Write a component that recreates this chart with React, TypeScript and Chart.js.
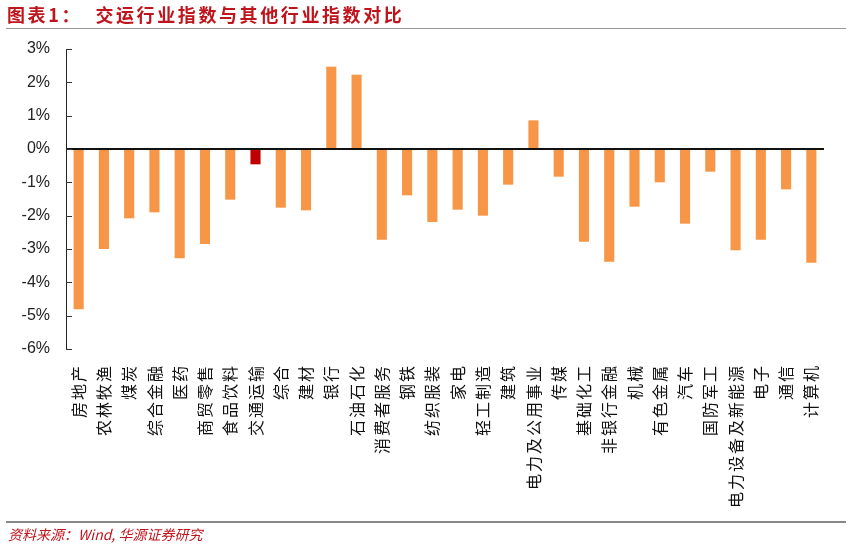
import React, { useEffect, useRef } from "react";
import { Chart, registerables } from "chart.js";

Chart.register(...registerables);

const categories: string[] = [
  "房地产", "农林牧渔", "煤炭", "综合金融", "医药", "商贸零售", "食品饮料", "交通运输",
  "综合", "建材", "银行", "石油石化", "消费者服务", "钢铁", "纺织服装", "家电",
  "轻工制造", "建筑", "电力及公用事业", "传媒", "基础化工", "非银行金融", "机械",
  "有色金属", "汽车", "国防军工", "电力设备及新能源", "电子", "通信", "计算机",
];

const values: number[] = [
  -4.81, -3.0, -2.08, -1.9, -3.28, -2.85, -1.52, -0.46,
  -1.76, -1.84, 2.47, 2.23, -2.72, -1.39, -2.19, -1.82,
  -2.0, -1.07, 0.86, -0.83, -2.78, -3.38, -1.73,
  -1.0, -2.24, -0.68, -3.04, -2.72, -1.21, -3.41,
];

const highlight = "交通运输";
const yMin = -6;
const yMax = 3;

const ORANGE = "#F79646";
const RED = "#C00000";

const axisDecor = {
  id: "axisDecor",
  afterDraw(chart: any) {
    const y = chart.scales.y;
    const x = chart.scales.x;
    const ctx = chart.ctx;
    const { left, bottom } = chart.chartArea;
    ctx.save();
    // inner tick marks on the value axis
    ctx.strokeStyle = "#333";
    ctx.lineWidth = 1;
    y.ticks.forEach((t: any) => {
      const py = Math.round(y.getPixelForValue(t.value)) + 0.5;
      ctx.beginPath();
      ctx.moveTo(left, py);
      ctx.lineTo(left + 6, py);
      ctx.stroke();
    });
    // rotated category labels (read bottom-to-top, end near the axis)
    ctx.fillStyle = "#111";
    ctx.font = "16px 'Noto Sans CJK SC'";
    (ctx as any).letterSpacing = "2px";
    ctx.textAlign = "right";
    ctx.textBaseline = "middle";
    const labels: string[] = chart.data.labels;
    labels.forEach((lab: string, i: number) => {
      const px = x.getPixelForValue(i);
      ctx.save();
      ctx.translate(px, bottom + 15);
      ctx.rotate(-Math.PI / 2);
      ctx.fillText(lab, 0, 0);
      ctx.restore();
    });
    ctx.restore();
  },
};

export default function App() {
  const ref = useRef<HTMLCanvasElement | null>(null);

  useEffect(() => {
    if (!ref.current) return;
    const chart = new Chart(ref.current, {
      type: "bar",
      data: {
        labels: categories,
        datasets: [
          {
            data: values,
            backgroundColor: categories.map((c) => (c === highlight ? RED : ORANGE)),
            borderWidth: 0,
            barPercentage: 0.4,
            categoryPercentage: 1,
          },
        ],
      },
      plugins: [axisDecor],
      options: {
        animation: false,
        responsive: false,
        maintainAspectRatio: false,
        layout: { padding: { top: 49, right: 28, bottom: 0, left: 0 } },
        plugins: { legend: { display: false }, tooltip: { enabled: false } },
        scales: {
          x: {
            grid: { display: false, drawTicks: false },
            border: { display: false },
            ticks: { display: false, autoSkip: false },
            afterFit: (s: any) => {
              s.height = 547 - 349;
            },
          },
          y: {
            min: yMin,
            max: yMax,
            grid: {
              drawTicks: false,
              color: (c: any) => (c.tick && c.tick.value === 0 ? "#111" : "rgba(0,0,0,0)"),
              lineWidth: (c: any) => (c.tick && c.tick.value === 0 ? 2 : 0),
            },
            border: { display: true, color: "#222", width: 1 },
            ticks: {
              stepSize: 1,
              padding: 16,
              color: "#222",
              font: { family: "'Liberation Sans', Arial", size: 16 },
              callback: (v: any) => `${v}%`,
            },
            afterFit: (s: any) => {
              s.width = 66;
            },
          },
        },
      },
    });
    return () => chart.destroy();
  }, []);

  return (
    <div style={{ position: "absolute", left: 0, top: 0, width: 852, height: 547, background: "#fff", overflow: "hidden" }}>
      <canvas ref={ref} width={852} height={547} style={{ position: "absolute", left: 0, top: 0, width: 852, height: 547 }} />
      <div
        style={{
          position: "absolute",
          left: 7,
          top: 3,
          fontFamily: "'Noto Sans CJK SC', sans-serif",
          fontWeight: 700,
          fontSize: 18,
          letterSpacing: 2.6,
          color: "#C0141C",
          whiteSpace: "pre",
          lineHeight: "22px",
        }}
      >
        {"图表1：  交运行业指数与其他行业指数对比"}
      </div>
      <div style={{ position: "absolute", left: 6, top: 28, width: 840, height: 1, background: "#999" }} />
      <div style={{ position: "absolute", left: 6, top: 521, width: 840, height: 2, background: "#888" }} />
      <div
        style={{
          position: "absolute",
          left: 8,
          top: 524,
          fontFamily: "'Noto Sans CJK SC', sans-serif",
          fontStyle: "italic",
          fontSize: 14,
          color: "#C0141C",
          whiteSpace: "pre",
          lineHeight: "20px",
        }}
      >
        {"资料来源：Wind, 华源证券研究"}
      </div>
    </div>
  );
}
